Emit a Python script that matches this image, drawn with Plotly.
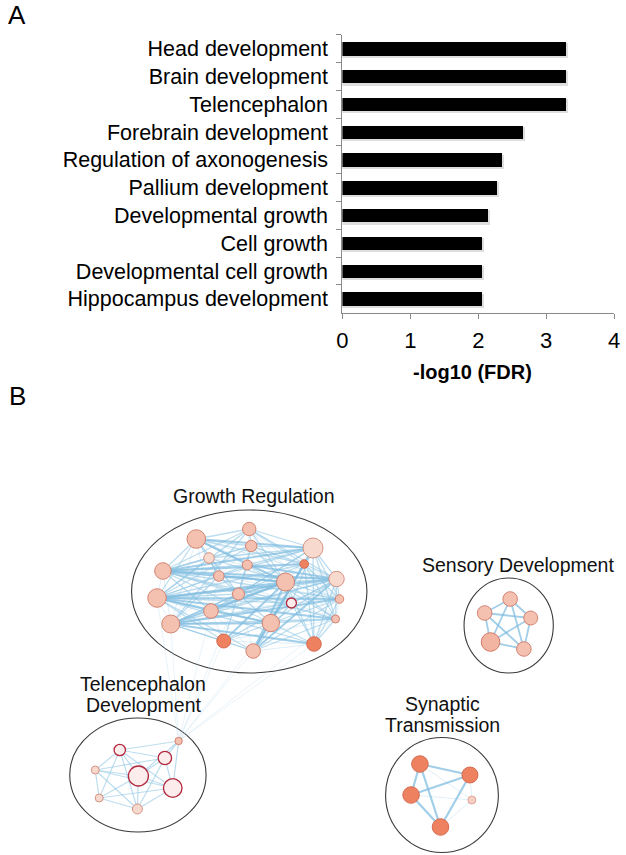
import plotly.graph_objects as go

FONT = "Liberation Sans, Arial, Helvetica, sans-serif"

# ---------------- Panel A data ----------------
terms = ["Head development", "Brain development", "Telencephalon",
         "Forebrain development", "Regulation of axonogenesis",
         "Pallium development", "Developmental growth", "Cell growth",
         "Developmental cell growth", "Hippocampus development"]
neg_log10_fdr = [3.30, 3.30, 3.30, 2.66, 2.36, 2.28, 2.15, 2.06, 2.06, 2.06]
x_ticks = [0, 1, 2, 3, 4]

# ---------------- Panel B data (network layout coordinates) ----------------
# Growth Regulation cluster
g_x = [194, 248, 250, 313, 207, 246, 304, 160, 217, 285, 337, 154, 237, 291, 340, 209, 168, 270, 336, 222, 252, 314]
g_y = [539, 529, 546, 548, 558, 565, 564, 571, 576, 582, 579, 598, 594, 603, 599, 611, 624, 623, 619, 641, 651, 644]
g_r = [9.3, 6.7, 5.7, 10, 5.3, 5, 4.3, 8.3, 5.3, 9, 7.7, 9.3, 6, 5, 4.3, 7.3, 9, 8.7, 4, 7, 7.3, 7.3]
g_k = ["m", "m", "m", "p", "p", "m", "d", "m", "m", "m", "p", "m", "m", "w", "m", "m", "m", "m", "m", "d", "m", "d"]
# Telencephalon Development cluster
t_x = [176, 116, 162, 91, 135, 170, 95, 134]
t_y = [741, 750, 758, 770, 776, 788, 798, 809]
t_r = [3.7, 5.7, 6.7, 4, 10, 9.3, 4, 5]
t_k = ["m", "w", "w", "p", "w", "w", "p", "p"]
# Sensory Development cluster
s_x = [514, 488, 535, 494, 528]
s_y = [599, 613, 618, 642, 649]
s_r = [7.3, 7.3, 7, 9.3, 7.3]
s_k = ["m", "m", "m", "m2", "m"]
# Synaptic Transmission cluster
y_x = [422, 473, 413, 475, 443]
y_y = [764, 775, 795, 800, 827]
y_r = [8.3, 8, 8.3, 4, 8.3]
y_k = ["d", "d", "d", "p2", "d"]

# edges (1-based node numbers within a cluster)
g_heavy = [(8, 10), (12, 10), (17, 10), (12, 18), (8, 4), (12, 11), (17, 18), (16, 10), (21, 10), (21, 7),
           (18, 4), (12, 15), (8, 11), (17, 15), (13, 10), (9, 10), (12, 19), (1, 10), (6, 11), (20, 10),
           (8, 7), (1, 4), (17, 22), (21, 11)]
g_medium = [(1, 2), (1, 3), (1, 6), (1, 8), (1, 9), (1, 12), (1, 13), (1, 7), (2, 4), (2, 7), (2, 10), (2, 11),
            (3, 4), (3, 7), (3, 10), (3, 8), (3, 12), (5, 10), (5, 4), (5, 12), (6, 4), (6, 8), (6, 12), (6, 19),
            (7, 12), (7, 17), (7, 11), (7, 15), (7, 19), (7, 22), (8, 13), (8, 14), (8, 15), (8, 18), (8, 19),
            (9, 4), (9, 11), (9, 12), (9, 17), (10, 11), (10, 15), (10, 19), (10, 22), (10, 14), (12, 13),
            (12, 14), (12, 22), (13, 4), (13, 11), (13, 17), (13, 18), (14, 4), (14, 11), (14, 22), (14, 17),
            (16, 4), (16, 11), (16, 18), (16, 12), (16, 8), (17, 11), (17, 13), (17, 19), (18, 11), (18, 15),
            (18, 19), (18, 22), (18, 20), (18, 21), (20, 17), (20, 12), (20, 13), (20, 11), (21, 17), (21, 12),
            (21, 15), (21, 19), (21, 4), (21, 14), (22, 11), (22, 15), (22, 19), (22, 4), (19, 11), (15, 11),
            (15, 4), (19, 4), (11, 4), (2, 3), (6, 13), (3, 13), (9, 13), (5, 9), (5, 8), (2, 8), (2, 12), (2, 17)]
g_thin = [(1, 5), (1, 11), (1, 15), (1, 17), (1, 16), (2, 5), (2, 6), (2, 14), (2, 15), (2, 19), (3, 5), (3, 6),
          (3, 9), (3, 11), (3, 15), (4, 7), (4, 10), (5, 6), (5, 13), (5, 17), (6, 7), (6, 9), (6, 10), (6, 14),
          (6, 17), (9, 14), (9, 15), (9, 16), (9, 18), (12, 17), (8, 12), (8, 17), (8, 9), (13, 14), (13, 15),
          (13, 16), (13, 19), (13, 21), (14, 15), (14, 18), (14, 19), (14, 21), (16, 17), (16, 20), (16, 21),
          (17, 21), (20, 21), (20, 22), (21, 22), (19, 15), (10, 18), (10, 7), (16, 15), (20, 14), (20, 19)]
t_edges = [(1, 2), (1, 3), (1, 5), (1, 6), (2, 3), (2, 4), (2, 5), (2, 6), (2, 7), (3, 5), (3, 6), (3, 8),
           (3, 4), (4, 5), (4, 6), (4, 7), (5, 6), (5, 7), (5, 8), (6, 8), (6, 7), (7, 8), (4, 8), (2, 8)]
gt_edges = [(12, 1), (17, 1), (16, 1), (20, 1), (21, 1), (18, 1), (13, 1), (22, 1), (19, 1)]
s_edges = [(1, 2), (1, 3), (1, 4), (1, 5), (2, 3), (2, 4), (2, 5), (3, 4), (3, 5), (4, 5)]
y_heavy = [(1, 2), (1, 5), (2, 3), (2, 5), (1, 3), (3, 5)]
y_thin = [(1, 4), (2, 4), (3, 4), (4, 5)]

clusters = ["Growth Regulation", "Telencephalon|Development", "Sensory Development", "Synaptic|Transmission"]
cl_cx = [248, 134.5, 512.5, 444.5]
cl_cy = [591.5, 775, 625.5, 795]
cl_rx = [120, 69.5, 45.5, 57.5]
cl_ry = [81.5, 57, 47.5, 57.5]
lab_x = [253, 140, 522, 445]
lab_y = [496, 684, 565, 704]

# ---------------- Figure ----------------
W, H = 626, 855
fig = go.Figure()

# shadow + bars
fig.add_trace(go.Bar(orientation="h", y=terms, x=[v + 0.03 for v in neg_log10_fdr],
                     marker=dict(color="rgba(0,0,0,0.13)", line=dict(width=0)),
                     width=0.52, offset=-0.2, xaxis="x", yaxis="y", hoverinfo="skip"))
fig.add_trace(go.Bar(orientation="h", y=terms, x=neg_log10_fdr,
                     marker=dict(color="black", line=dict(width=0)),
                     width=0.48, offset=-0.24, xaxis="x", yaxis="y"))


def seg(xa, ya, xb, yb, pairs):
    xs, ys = [], []
    for a, b in pairs:
        xs += [xa[a - 1], xb[b - 1], None]
        ys += [ya[a - 1], yb[b - 1], None]
    return xs, ys


def add_edges(xs, ys, color, width):
    fig.add_trace(go.Scatter(x=xs, y=ys, mode="lines", line=dict(color=color, width=width),
                             xaxis="x2", yaxis="y2", hoverinfo="skip"))


cols = {"h": "rgba(130,190,224,0.75)", "m": "rgba(145,198,228,0.6)", "t": "rgba(165,208,232,0.5)"}
add_edges(*seg(g_x, g_y, t_x, t_y, gt_edges), "rgba(170,210,232,0.45)", 0.6)
add_edges(*seg(g_x, g_y, g_x, g_y, g_thin), cols["t"], 0.7)
add_edges(*seg(g_x, g_y, g_x, g_y, g_medium), cols["m"], 1.3)
add_edges(*seg(g_x, g_y, g_x, g_y, g_heavy), cols["h"], 2.0)
add_edges(*seg(t_x, t_y, t_x, t_y, t_edges), cols["m"], 1.2)
add_edges(*seg(s_x, s_y, s_x, s_y, s_edges), cols["h"], 1.8)
add_edges(*seg(y_x, y_y, y_x, y_y, y_thin), cols["t"], 0.7)
add_edges(*seg(y_x, y_y, y_x, y_y, y_heavy), cols["h"], 2.2)

style = {
    "m": ("#f4c0b0", "#cf7b68", 0.9),
    "m2": ("#f2b5a2", "#cf6f5c", 0.9),
    "p": ("#f8d9ce", "#d08a7a", 0.9),
    "p2": ("#f6cfc2", "#d9968a", 0.8),
    "d": ("#ee8160", "#d2644a", 0.9),
    "w": ("#fcecec", "#b3283e", 1.3),
}
for xs, ys, rs, ks in [(g_x, g_y, g_r, g_k), (t_x, t_y, t_r, t_k), (s_x, s_y, s_r, s_k), (y_x, y_y, y_r, y_k)]:
    fig.add_trace(go.Scatter(
        x=xs, y=ys, mode="markers", xaxis="x2", yaxis="y2", hoverinfo="skip",
        marker=dict(size=[2 * r for r in rs], color=[style[k][0] for k in ks],
                    line=dict(color=[style[k][1] for k in ks], width=[style[k][2] for k in ks]),
                    opacity=1)))

shapes = []
for cx, cy, rx, ry in zip(cl_cx, cl_cy, cl_rx, cl_ry):
    shapes.append(dict(type="circle", xref="x2", yref="y2", x0=cx - rx, x1=cx + rx, y0=cy - ry, y1=cy + ry,
                       line=dict(color="#3a3a3a", width=1.1), fillcolor="rgba(0,0,0,0)", layer="below"))

annotations = []
for name, lx, ly in zip(clusters, lab_x, lab_y):
    for i, line in enumerate(name.split("|")):
        annotations.append(dict(text=line, x=lx, y=ly + 21 * i, xref="x2", yref="y2", showarrow=False,
                                xanchor="center", yanchor="middle", font=dict(size=19.5, color="#111", family=FONT)))
annotations += [
    dict(text="A", x=11 / W, y=1 - 15 / H, xref="paper", yref="paper", showarrow=False,
         xanchor="center", yanchor="middle", font=dict(size=26, color="black", family=FONT)),
    dict(text="B", x=12 / W, y=1 - 396 / H, xref="paper", yref="paper", showarrow=False,
         xanchor="center", yanchor="middle", font=dict(size=26, color="black", family=FONT)),
    dict(text="<b>-log10 (FDR)</b>", x=476 / W, y=1 - 372 / H, xref="paper", yref="paper", showarrow=False,
         xanchor="center", yanchor="middle", font=dict(size=20, color="black", family=FONT)),
]

fig.update_layout(
    width=W, height=H, margin=dict(l=0, r=0, t=0, b=0),
    paper_bgcolor="white", plot_bgcolor="rgba(0,0,0,0)",
    showlegend=False, barmode="overlay", bargap=0,
    font=dict(family=FONT, color="black"),
    xaxis=dict(domain=[343 / W, 620 / W], range=[0, 4], tickvals=x_ticks, ticktext=[str(t) for t in x_ticks],
               showgrid=False, zeroline=False, showline=True, linecolor="#8a8a8a", linewidth=1.2,
               ticks="outside", ticklen=5, tickcolor="#8a8a8a", tickwidth=1.2,
               tickfont=dict(size=22, family=FONT, color="black"), ticklabelstandoff=3,
               ticklabeloverflow="allow", anchor="y", fixedrange=True),
    yaxis=dict(domain=[1 - 312.7 / H, 1 - 34.7 / H], type="category", categoryorder="array",
               categoryarray=terms, range=[9.5, -0.5], tickson="boundaries",
               showgrid=False, zeroline=False, showline=True, linecolor="#8a8a8a", linewidth=1.2,
               ticks="outside", ticklen=5, tickcolor="#8a8a8a", tickwidth=1.2,
               tickfont=dict(size=21.5, family=FONT, color="black"), ticklabelstandoff=9,
               ticklabeloverflow="allow", anchor="x", fixedrange=True),
    xaxis2=dict(domain=[0, 1], range=[0, W], visible=False, anchor="y2", fixedrange=True),
    yaxis2=dict(domain=[0, 1], range=[H, 0], visible=False, anchor="x2", fixedrange=True),
    shapes=shapes, annotations=annotations,
)

fig.write_html("out.html", config={"displayModeBar": False},
               post_script="document.body.style.margin='0';document.body.style.overflow='hidden';")
